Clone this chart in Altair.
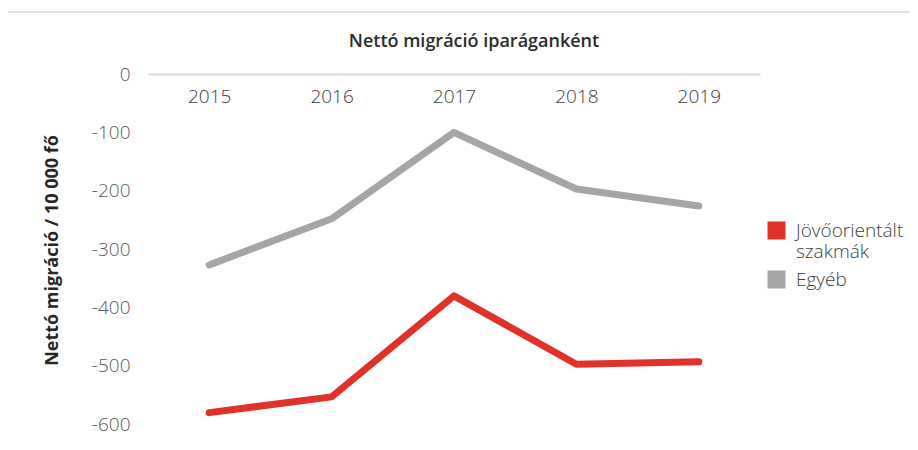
import altair as alt
import pandas as pd

years = ["2015", "2016", "2017", "2018", "2019"]
series_names = ["Jövőorientált szakmák", "Egyéb"]
future_values = [-580, -553, -380, -497, -493]
other_values = [-327, -248, -100, -197, -226]
colors = ["#e0312b", "#a5a5a5"]

rows = []
for y, v in zip(years, future_values):
    rows.append({"Év": y, "Érték": v, "Sorozat": series_names[0]})
for y, v in zip(years, other_values):
    rows.append({"Év": y, "Érték": v, "Sorozat": series_names[1]})
df = pd.DataFrame(rows)

FONT = "Open Sans"
W, H = 612, 362

lines = alt.Chart(df).mark_line(strokeWidth=7, strokeCap="round", strokeJoin="round").encode(
    x=alt.X("Év:O", title=None, sort=years,
            axis=alt.Axis(orient="bottom", offset=-H, labelAngle=0, ticks=False,
                          domainColor="#d9d9d9", domainWidth=2, labelPadding=13,
                          labelFontSize=19, labelColor="#404040", labelFont=FONT,
                          labelFontWeight=300)),
    y=alt.Y("Érték:Q", title="Nettó migráció / 10 000 fő",
            scale=alt.Scale(domain=[-620, 0], nice=False),
            axis=alt.Axis(values=[0, -100, -200, -300, -400, -500, -600], grid=False,
                          domain=False, ticks=False, labelPadding=18,
                          labelExpr="datum.value + ''",
                          labelFontSize=19, labelColor="#595959", labelFont=FONT,
                          labelFontWeight=300,
                          titleFont=FONT, titleFontSize=18, titleFontWeight="bold",
                          titleColor="#262626", titlePadding=30, titleY=176)),
    color=alt.Color("Sorozat:N", sort=series_names,
                    scale=alt.Scale(domain=series_names, range=colors),
                    legend=alt.Legend(title=None, orient="none", legendX=619, legendY=147,
                                      symbolType="square", symbolSize=81,
                                      symbolStrokeWidth=9, labelFontSize=19,
                                      labelFont=FONT, labelColor="#404040",
                                      labelFontWeight=300, rowPadding=-5, labelOffset=10,
                                      labelExpr="datum.label == 'Jövőorientált szakmák' ? ['Jövőorientált', 'szakmák'] : datum.label")),
)

frame = alt.Chart(pd.DataFrame({"k": [0]})).mark_rect(fill=None, stroke="#e3e3e3", strokeWidth=2).encode(
    x=alt.value(-141), x2=alt.value(900), y=alt.value(-62), y2=alt.value(600)
)

chart = alt.layer(frame, lines).properties(
    width=W, height=H,
    background="white",
    autosize=alt.AutoSizeParams(type="none"),
    padding={"left": 140, "top": 66, "right": 150, "bottom": 0},
    title=alt.Title("Nettó migráció iparáganként", font=FONT, fontSize=18,
                    fontWeight=600, color="#2b2b2b", offset=-40, dx=20,
                    anchor="middle", frame="group"),
).configure_view(stroke=None)

chart.save("out.html", embed_options={"renderer": "svg", "actions": False})
